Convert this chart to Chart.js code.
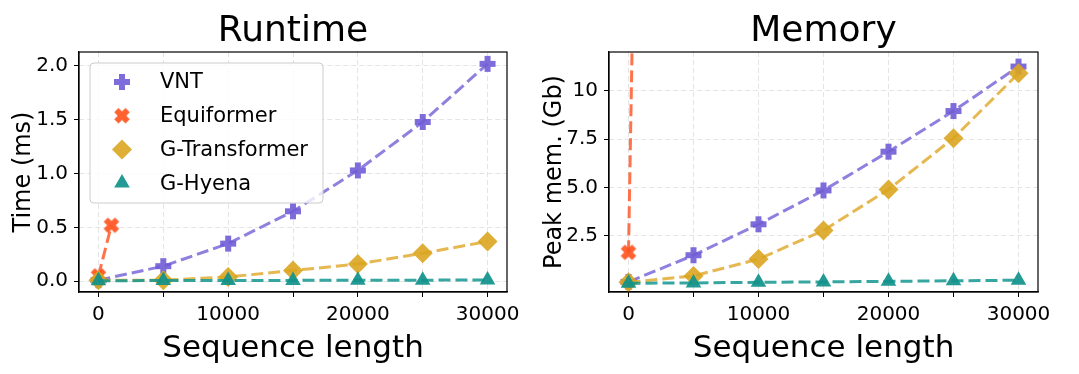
<!DOCTYPE html>
<html>
<head>
<meta charset="utf-8">
<script src="https://cdn.jsdelivr.net/npm/chart.js@4.4.1/dist/chart.umd.min.js"></script>
<style>
  body { margin: 0; background: #fff; }
  canvas { position: absolute; top: 0; }
</style>
</head>
<body>
<canvas id="runtime" width="540" height="374" style="left:0"></canvas>
<canvas id="memory" width="539" height="374" style="left:540px"></canvas>
<script>
// sequence lengths (x)
const seqLen = [0, 5000, 10000, 15000, 20000, 25000, 30000];
const equiLen = [0, 1000];

// runtime (ms)
const timeVNT = [0.01, 0.14, 0.35, 0.65, 1.03, 1.48, 2.02];
const timeEqui = [0.05, 0.52];
const timeGTrans = [0.01, 0.01, 0.04, 0.10, 0.16, 0.26, 0.37];
const timeGHyena = [0.005, 0.006, 0.007, 0.008, 0.009, 0.010, 0.012];

// peak memory (Gb)
const memVNT = [0.12, 1.5, 3.1, 4.85, 6.85, 8.95, 11.25];
const memEqui = [1.65, 40];
const memGTrans = [0.1, 0.43, 1.3, 2.78, 4.9, 7.55, 10.9];
const memGHyena = [0.05, 0.07, 0.1, 0.12, 0.15, 0.18, 0.21];

// ticks
const xTickVals = [0, 5000, 10000, 15000, 20000, 25000, 30000];
const xTickLabels = ['0', '', '10000', '', '20000', '', '30000'];
const timeTickVals = [0, 0.5, 1, 1.5, 2];
const timeTickLabels = ['0.0', '0.5', '1.0', '1.5', '2.0'];
const memTickVals = [2.5, 5, 7.5, 10];
const memTickLabels = ['2.5', '5.0', '7.5', '10'];

const names = ['VNT', 'Equiformer', 'G-Transformer', 'G-Hyena'];

Chart.defaults.font.family = "'DejaVu Sans', sans-serif";
Chart.defaults.color = '#000';

// filled plus / X markers like matplotlib 'P' and 'X'
function markerCanvas(color, rotate) {
  const c = document.createElement('canvas');
  c.width = 18; c.height = 18;
  const g = c.getContext('2d');
  g.translate(9, 9);
  if (rotate) g.rotate(Math.PI / 4);
  g.fillStyle = color;
  const a = 8, t = 3;
  g.beginPath();
  g.moveTo(-t, -a); g.lineTo(t, -a); g.lineTo(t, -t); g.lineTo(a, -t);
  g.lineTo(a, t); g.lineTo(t, t); g.lineTo(t, a); g.lineTo(-t, a);
  g.lineTo(-t, t); g.lineTo(-a, t); g.lineTo(-a, -t); g.lineTo(-t, -t);
  g.closePath();
  g.fill();
  return c;
}

const styles = [
  { line: 'rgba(123,104,216,0.85)', mark: 'rgba(112,92,214,0.9)', shape: () => markerCanvas('rgba(112,92,214,0.9)', false), radius: 8, order: 3 },
  { line: 'rgba(255,90,45,0.85)', mark: 'rgba(255,80,25,0.9)', shape: () => markerCanvas('rgba(255,80,25,0.9)', true), radius: 8, order: 2 },
  { line: 'rgba(224,172,50,0.85)', mark: 'rgba(218,165,32,0.9)', shape: () => 'rectRot', radius: 10, order: 1 },
  { line: 'rgba(20,150,143,0.85)', mark: 'rgba(16,145,138,0.92)', shape: () => 'triangle', radius: 9, order: 0 },
];

function pts(xs, ys) { return ys.map((y, i) => ({ x: xs[i], y })); }

function makeDataset(i, xs, ys) {
  const s = styles[i];
  return {
    label: names[i],
    data: pts(xs, ys),
    borderColor: s.line,
    borderWidth: 3,
    borderDash: [12, 5],
    pointStyle: s.shape(),
    pointRadius: s.radius,
    pointBackgroundColor: s.mark,
    pointBorderColor: s.mark,
    pointBorderWidth: 0,
    fill: false,
    tension: 0,
    order: s.order,
  };
}

const framePlugin = {
  id: 'frame',
  afterDraw(chart) {
    const a = chart.chartArea, ctx = chart.ctx;
    ctx.save();
    ctx.strokeStyle = '#000';
    ctx.lineWidth = 1.2;
    ctx.setLineDash([]);
    ctx.strokeRect(a.left, a.top, a.right - a.left, a.bottom - a.top);
    ctx.restore();
  }
};

const legendPlugin = {
  id: 'boxLegend',
  afterDraw(chart) {
    const ctx = chart.ctx;
    const bx = 90, by = 63, bw = 233, bh = 140;
    ctx.save();
    ctx.setLineDash([]);
    ctx.beginPath();
    ctx.roundRect(bx, by, bw, bh, 4);
    ctx.fillStyle = 'rgba(255,255,255,0.8)';
    ctx.fill();
    ctx.strokeStyle = '#cccccc';
    ctx.lineWidth = 1;
    ctx.stroke();
    chart.data.datasets.forEach((ds, i) => {
      const y = by + 19 + i * 33.7;
      const x = bx + 32;
      const st = ds.pointStyle;
      if (st instanceof HTMLCanvasElement) {
        ctx.drawImage(st, x - st.width / 2, y - st.height / 2);
      } else {
        ctx.fillStyle = ds.pointBackgroundColor;
        Chart.helpers.drawPoint(ctx, { pointStyle: st, radius: ds.pointRadius, rotation: 0, borderWidth: 0 }, x, y);
      }
      ctx.fillStyle = '#000';
      ctx.font = "21px 'DejaVu Sans', sans-serif";
      ctx.textBaseline = 'middle';
      ctx.textAlign = 'left';
      ctx.fillText(ds.label, bx + 70, y + 1);
    });
    ctx.restore();
  }
};

const gridOpts = { color: '#e4e4e4', tickColor: '#000', tickBorderDash: [], tickLength: 5, tickWidth: 1 };
const borderOpts = { display: true, color: '#000', width: 1.2, dash: [5, 3] };

function xScale() {
  return {
    type: 'linear',
    min: -1500,
    max: 31500,
    afterBuildTicks: s => { s.ticks = xTickVals.map(v => ({ value: v })); },
    afterFit: s => { s.height = 82; },
    ticks: {
      autoSkip: false,
      maxRotation: 0,
      padding: 6,
      font: { size: 20 },
      callback: (v) => xTickLabels[xTickVals.indexOf(v)],
    },
    grid: gridOpts,
    border: borderOpts,
    title: { display: true, text: 'Sequence length', font: { size: 31 }, padding: { top: 0, bottom: 6 } },
  };
}

function yScale(min, max, vals, labels, title, width, titlePad) {
  return {
    type: 'linear',
    min, max,
    afterBuildTicks: s => { s.ticks = vals.map(v => ({ value: v })); },
    afterFit: s => { s.width = width; },
    ticks: {
      autoSkip: false,
      padding: 6,
      font: { size: 20 },
      callback: (v) => labels[vals.indexOf(v)],
    },
    grid: gridOpts,
    border: borderOpts,
    title: { display: true, text: title, font: { size: 24 }, padding: { top: titlePad, bottom: 0 } },
  };
}

function makeChart(id, title, datasets, y, padRight, plugins) {
  return new Chart(document.getElementById(id), {
    type: 'line',
    data: { datasets },
    options: {
      responsive: false,
      animation: false,
      devicePixelRatio: 1,
      layout: { padding: { right: padRight, top: 0, left: 0, bottom: 0 } },
      plugins: {
        legend: { display: false },
        tooltip: { enabled: false },
        title: { display: true, text: title, fullSize: false, font: { size: 36, weight: 'normal', lineHeight: 0.9 }, padding: { top: 15.8, bottom: 3.8 } },
      },
      scales: { x: xScale(), y },
    },
    plugins,
  });
}

makeChart('runtime', 'Runtime', [
  makeDataset(0, seqLen, timeVNT),
  makeDataset(1, equiLen, timeEqui),
  makeDataset(2, seqLen, timeGTrans),
  makeDataset(3, seqLen, timeGHyena),
], yScale(-0.1, 2.13, timeTickVals, timeTickLabels, 'Time (ms)', 79, 9), 33, [framePlugin, legendPlugin]);

makeChart('memory', 'Memory', [
  makeDataset(0, seqLen, memVNT),
  makeDataset(1, equiLen, memEqui),
  makeDataset(2, seqLen, memGTrans),
  makeDataset(3, seqLen, memGHyena),
], yScale(-0.4, 12, memTickVals, memTickLabels, 'Peak mem. (Gb)', 69, 0), 41, [framePlugin]);
</script>
</body>
</html>
